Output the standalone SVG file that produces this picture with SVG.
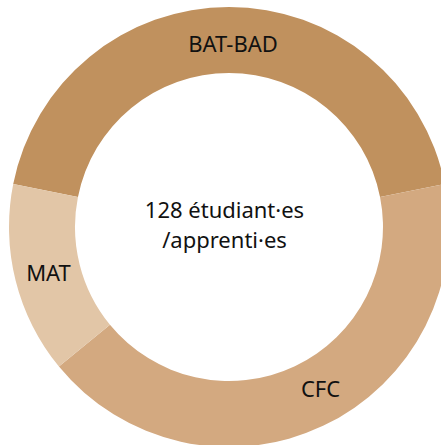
<svg xmlns="http://www.w3.org/2000/svg" width="441" height="445" viewBox="0 0 441 445">
<style>
.lbl{font-family:"Noto Sans","Liberation Sans",sans-serif;font-size:22px;fill:#111;text-anchor:middle;font-variant-ligatures:none}
</style>
<rect width="441" height="445" fill="#ffffff"/>
<g id="bat-bad">
<path d="M13.23,184.08 A220,220 0 0 1 444.77,184.08 L380.04,196.96 A154,154 0 0 0 77.96,196.96 Z" fill="#c0915e"/>
<text class="lbl" x="233" y="52">BAT-BAD</text>
</g>
<g id="cfc">
<path d="M444.77,184.08 A220,220 0 0 1 58.94,366.57 L109.96,324.70 A154,154 0 0 0 380.04,196.96 Z" fill="#d3a980"/>
<text class="lbl" x="320.5" y="397">CFC</text>
</g>
<g id="mat">
<path d="M58.94,366.57 A220,220 0 0 1 13.23,184.08 L77.96,196.96 A154,154 0 0 0 109.96,324.70 Z" fill="#e2c6a7"/>
<text class="lbl" x="48.5" y="281">MAT</text>
</g>
<g id="center">
<text class="lbl" x="224.5" y="218">128 étudiant·es</text>
<text class="lbl" x="224.5" y="248">/apprenti·es</text>
</g>
<g id="connectors"/>
</svg>
